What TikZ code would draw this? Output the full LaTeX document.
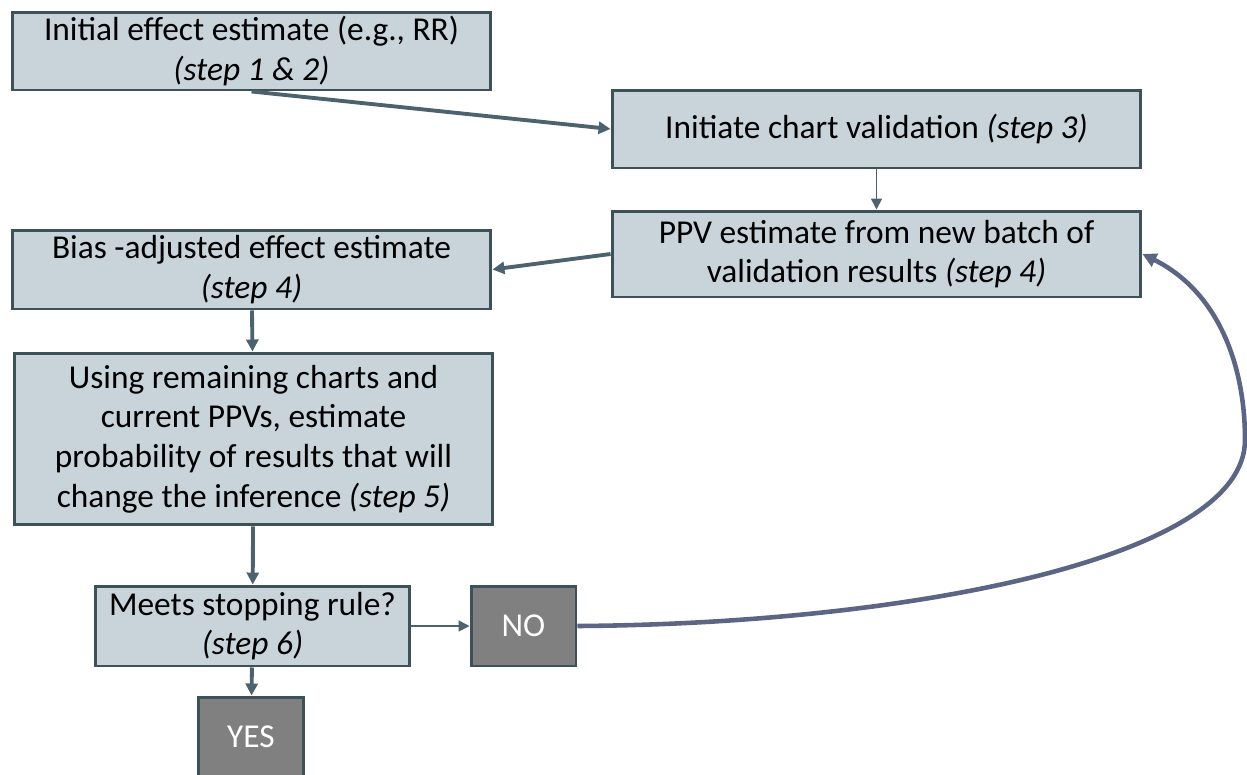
\documentclass[tikz,border=0pt]{standalone}
\usepackage{fontspec}
\setmainfont{Carlito}
\usetikzlibrary{arrows.meta}
\definecolor{boxfill}{RGB}{200,211,218}
\definecolor{boxline}{RGB}{62,80,88}
\definecolor{arrcol}{RGB}{76,98,110}
\definecolor{loopcol}{RGB}{92,102,132}
\definecolor{endfill}{RGB}{128,128,128}
\tikzset{
  sbox/.style={draw=boxline, line width=1.7pt, fill=boxfill, align=center,
      inner sep=2pt, font=\fontsize{19}{22.5}\selectfont},
  dbox/.style={draw=boxline, line width=1.7pt, fill=endfill, text=white,
      minimum width=2.1cm, minimum height=1.6cm, font=\fontsize{19}{22.5}\selectfont},
  tarr/.style={-{Triangle[length=2.4mm, width=2.4mm]}, arrcol, line width=2.2pt},
  narr/.style={-{Triangle[length=2.2mm, width=2.2mm]}, arrcol, line width=0.9pt},
  larr/.style={-{Triangle[length=2.8mm, width=2.8mm]}, loopcol, line width=2.6pt},
}
\newcommand{\stp}[1]{\textit{(step #1)}}

\begin{document}
\begin{tikzpicture}[x=0.02cm, y=-0.02cm]
\useasboundingbox (0,0) rectangle (1247,774);
\clip (0,0) rectangle (1247,774);
% boxes
\node[sbox, minimum width=9.58cm, minimum height=1.56cm] (init) at (251.5,51)
  {Initial effect estimate (e.g., RR)\\ \stp{1 \& 2}};
\node[sbox, minimum width=10.58cm, minimum height=1.56cm] (chart) at (876.5,129)
  {Initiate chart validation \stp{3}};
\node[sbox, minimum width=10.58cm, minimum height=1.72cm] (ppv) at (876.5,254)
  {PPV estimate from new batch of\\ validation results \stp{4}};
\node[sbox, minimum width=9.58cm, minimum height=1.58cm] (bias) at (251.5,269.5)
  {Bias -adjusted effect estimate\\ \stp{4}};
\node[sbox, minimum width=9.58cm, minimum height=3.44cm] (prob) at (253.5,439)
  {Using remaining charts and\\ current PPVs, estimate\\ probability of results that will\\ change the inference \stp{5}};
\node[sbox, minimum width=6.3cm, minimum height=1.6cm] (rule) at (252.5,626)
  {Meets stopping rule?\\ \stp{6}};
\node[dbox] (no) at (523.5,626) {NO};
\node[dbox] (yes) at (251,737) {YES};
% connectors
\draw[tarr] (init.south) -- (chart.west);
\draw[narr] (chart) -- (ppv);
\draw[tarr] (ppv.west) -- (bias.east);
\draw[tarr] (bias) -- (prob);
\draw[tarr] (prob) -- (rule);
\draw[narr] (rule) -- (no);
\draw[tarr] (rule) -- (yes);
\coordinate (turn) at (1245,440);
\draw[larr] (no.east) .. controls (900,624) and (1245,560) .. (turn)
  .. controls (1245,360) and (1215,290) .. (ppv.east);
\end{tikzpicture}
\end{document}
